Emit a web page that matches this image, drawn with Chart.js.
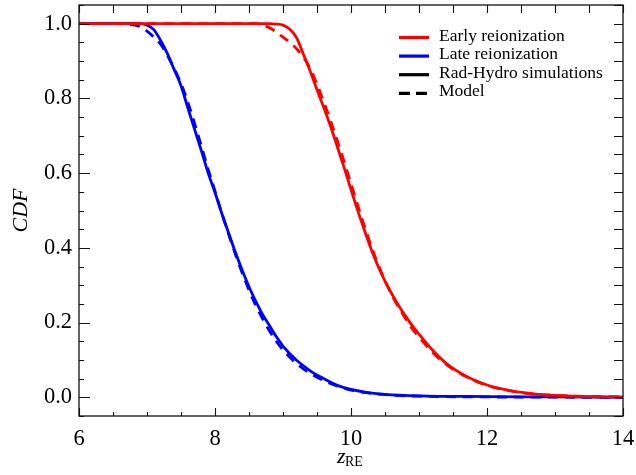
<!DOCTYPE html>
<html>
<head>
<meta charset="utf-8">
<script src="https://cdn.jsdelivr.net/npm/chart.js@4"></script>
<style>
  html, body { margin: 0; padding: 0; background: #ffffff; }
  #wrap { width: 636px; height: 475px; }
</style>
</head>
<body>
<div id="wrap"><canvas id="c" width="636" height="475"></canvas></div>
<script>
// Cumulative distribution of reionization redshift z_RE

// Late reionization — radiation-hydrodynamic simulation
const LATE_SIM_Z   = [6.0, 6.5, 6.9, 7.0, 7.1, 7.2, 7.3, 7.4, 7.5, 7.6, 7.7, 7.8, 7.9, 8.0, 8.1, 8.2, 8.3, 8.4, 8.5, 8.6, 8.7, 8.8, 8.9, 9.0, 9.2, 9.4, 9.6, 9.8, 10.0, 10.2, 10.5, 11.0, 12.0, 13.0, 14.0];
const LATE_SIM_CDF = [1.0, 1.0, 1.0, 0.996, 0.984, 0.955, 0.920, 0.877, 0.834, 0.775, 0.717, 0.660, 0.600, 0.548, 0.492, 0.440, 0.388, 0.340, 0.296, 0.257, 0.222, 0.192, 0.163, 0.137, 0.099, 0.071, 0.050, 0.032, 0.021, 0.014, 0.008, 0.004, 0.002, 0.001, 0.0];

// Late reionization — model
const LATE_MOD_Z   = [6.0, 6.6, 6.8, 6.9, 7.0, 7.1, 7.2, 7.3, 7.4, 7.5, 7.6, 7.7, 7.8, 7.9, 8.0, 8.1, 8.2, 8.3, 8.4, 8.5, 8.6, 8.7, 8.8, 8.9, 9.0, 9.2, 9.4, 9.6, 9.8, 10.0, 10.2, 10.5, 11.0, 12.0, 14.0];
const LATE_MOD_CDF = [1.0, 1.0, 0.997, 0.992, 0.980, 0.964, 0.945, 0.915, 0.880, 0.840, 0.790, 0.733, 0.672, 0.610, 0.552, 0.493, 0.437, 0.383, 0.333, 0.287, 0.246, 0.210, 0.178, 0.150, 0.127, 0.090, 0.064, 0.045, 0.030, 0.019, 0.013, 0.007, 0.003, 0.001, 0.0];

// Early reionization — radiation-hydrodynamic simulation
const EARLY_SIM_Z   = [6.0, 8.0, 8.8, 8.9, 9.0, 9.1, 9.2, 9.3, 9.4, 9.5, 9.6, 9.7, 9.8, 9.9, 10.0, 10.1, 10.2, 10.3, 10.4, 10.5, 10.6, 10.7, 10.8, 10.9, 11.0, 11.2, 11.4, 11.6, 11.8, 12.0, 12.2, 12.4, 12.6, 12.8, 13.0, 13.5, 14.0];
const EARLY_SIM_CDF = [1.0, 1.0, 1.0, 0.999, 0.996, 0.985, 0.962, 0.918, 0.873, 0.823, 0.775, 0.725, 0.670, 0.614, 0.556, 0.499, 0.446, 0.395, 0.350, 0.311, 0.277, 0.246, 0.218, 0.192, 0.169, 0.126, 0.091, 0.066, 0.047, 0.033, 0.023, 0.016, 0.011, 0.007, 0.005, 0.002, 0.001];

// Early reionization — model
const EARLY_MOD_Z   = [6.0, 8.6, 8.7, 8.8, 8.9, 9.0, 9.1, 9.2, 9.3, 9.4, 9.5, 9.6, 9.7, 9.8, 9.9, 10.0, 10.1, 10.2, 10.3, 10.4, 10.5, 10.6, 10.7, 10.8, 10.9, 11.0, 11.2, 11.4, 11.6, 11.8, 12.0, 12.2, 12.4, 12.6, 13.0, 14.0];
const EARLY_MOD_CDF = [1.0, 1.0, 0.996, 0.989, 0.978, 0.964, 0.950, 0.933, 0.910, 0.880, 0.838, 0.790, 0.740, 0.686, 0.630, 0.572, 0.513, 0.457, 0.403, 0.355, 0.312, 0.274, 0.241, 0.211, 0.184, 0.161, 0.120, 0.088, 0.064, 0.046, 0.032, 0.022, 0.015, 0.010, 0.005, 0.001];

// Axis ticks
const X_TICKS = [6, 8, 10, 12, 14];
const Y_TICKS = [0.0, 0.2, 0.4, 0.6, 0.8, 1.0];
const X_MINOR_STEP = 0.5;
const Y_MINOR_STEP = 0.05;

// Legend entries
const LEGEND_LABELS = ['Early reionization', 'Late reionization', 'Rad-Hydro simulations', 'Model'];

const RED = '#ff0000';
const BLUE = '#0000ff';
const SERIF = "'Liberation Serif', 'Times New Roman', serif";
const DASH = [10, 7];

function pairs(xs, ys) { return xs.map((x, i) => ({ x: x, y: ys[i] })); }

function series(xs, ys, color, dashed) {
  return {
    data: pairs(xs, ys),
    borderColor: color,
    borderWidth: 2.8,
    borderDash: dashed ? DASH : [],
    pointRadius: 0,
    fill: false,
    cubicInterpolationMode: 'monotone'
  };
}

// Frame with inward ticks on all four sides
const framePlugin = {
  id: 'frame',
  afterDraw(chart) {
    const { ctx, chartArea: a, scales } = chart;
    const xs = scales.x, ys = scales.y;
    ctx.save();
    ctx.strokeStyle = '#111';
    ctx.lineWidth = 1.3;
    ctx.strokeRect(a.left, a.top, a.right - a.left, a.bottom - a.top);
    ctx.lineWidth = 1.1;
    ctx.beginPath();
    for (let v = xs.min; v <= xs.max + 1e-9; v += X_MINOR_STEP) {
      const px = Math.round(xs.getPixelForValue(v)) + 0.5;
      const major = X_TICKS.some(t => Math.abs(t - v) < 1e-6);
      ctx.moveTo(px, a.bottom); ctx.lineTo(px, a.bottom - (major ? 8 : 4));
      ctx.moveTo(px, a.top); ctx.lineTo(px, a.top + 8);
    }
    const yStart = Math.ceil(ys.min / Y_MINOR_STEP) * Y_MINOR_STEP;
    for (let v = yStart; v <= ys.max + 1e-9; v += Y_MINOR_STEP) {
      const py = Math.round(ys.getPixelForValue(v)) + 0.5;
      const major = Y_TICKS.some(t => Math.abs(t - v) < 1e-6);
      ctx.moveTo(a.left, py); ctx.lineTo(a.left + (major ? 11 : 5), py);
      ctx.moveTo(a.right, py); ctx.lineTo(a.right - 9, py);
    }
    ctx.stroke();
    ctx.restore();
  }
};

// Axis titles: italic CDF and z with roman subscript RE
const titlesPlugin = {
  id: 'titles',
  afterDraw(chart) {
    const { ctx, chartArea: a } = chart;
    ctx.save();
    ctx.fillStyle = '#000';
    ctx.textBaseline = 'alphabetic';
    ctx.save();
    ctx.translate(26.5, (a.top + a.bottom) / 2);
    ctx.rotate(-Math.PI / 2);
    ctx.textAlign = 'center';
    ctx.font = 'italic 22px ' + SERIF;
    ctx.fillText('CDF', 0, 0);
    ctx.restore();
    ctx.textAlign = 'left';
    ctx.font = 'italic 22px ' + SERIF;
    ctx.fillText('z', 337, 463);
    ctx.font = '14px ' + SERIF;
    ctx.fillText('RE', 345, 466);
    ctx.restore();
  }
};

// Legend in the upper right of the plot area
const legendPlugin = {
  id: 'customLegend',
  afterDraw(chart) {
    const { ctx } = chart;
    const styles = [
      { color: RED, dash: [] },
      { color: BLUE, dash: [] },
      { color: '#000', dash: [] },
      { color: '#000', dash: [11, 6] }
    ];
    ctx.save();
    ctx.font = '17.5px ' + SERIF;
    ctx.textAlign = 'left';
    ctx.textBaseline = 'alphabetic';
    LEGEND_LABELS.forEach((label, i) => {
      const base = 40.5 + i * 18.6;
      const ly = base - 3;
      ctx.strokeStyle = styles[i].color;
      ctx.lineWidth = 3.2;
      ctx.setLineDash(styles[i].dash);
      ctx.beginPath();
      ctx.moveTo(399, ly); ctx.lineTo(429, ly);
      ctx.stroke();
      ctx.setLineDash([]);
      ctx.fillStyle = '#000';
      ctx.fillText(label, 439, base);
    });
    ctx.restore();
  }
};

new Chart(document.getElementById('c').getContext('2d'), {
  type: 'line',
  data: {
    datasets: [
      series(EARLY_SIM_Z, EARLY_SIM_CDF, RED, false),
      series(EARLY_MOD_Z, EARLY_MOD_CDF, RED, true),
      series(LATE_SIM_Z, LATE_SIM_CDF, BLUE, false),
      series(LATE_MOD_Z, LATE_MOD_CDF, BLUE, true)
    ]
  },
  options: {
    responsive: false,
    animation: false,
    layout: { padding: { left: 0, right: 13, top: 5, bottom: 0 } },
    plugins: { legend: { display: false }, tooltip: { enabled: false } },
    scales: {
      x: {
        type: 'linear',
        min: 6, max: 14,
        grid: { display: false, drawTicks: false },
        border: { display: false },
        afterBuildTicks: s => { s.ticks = X_TICKS.map(v => ({ value: v })); },
        afterFit: s => { s.height = 59; s.paddingLeft = 0; s.paddingRight = 0; },
        ticks: {
          color: '#000',
          font: { family: SERIF, size: 22.5 },
          padding: 10,
          maxRotation: 0,
          autoSkip: false,
          callback: v => String(v)
        }
      },
      y: {
        type: 'linear',
        min: -0.05, max: 1.05,
        grid: { display: false, drawTicks: false },
        border: { display: false },
        afterBuildTicks: s => { s.ticks = Y_TICKS.map(v => ({ value: v })); },
        afterFit: s => { s.width = 79; s.paddingTop = 0; s.paddingBottom = 0; },
        ticks: {
          color: '#000',
          font: { family: SERIF, size: 22.5 },
          padding: 7,
          autoSkip: false,
          callback: v => Number(v).toFixed(1)
        }
      }
    }
  },
  plugins: [framePlugin, titlesPlugin, legendPlugin]
});
</script>
</body>
</html>
